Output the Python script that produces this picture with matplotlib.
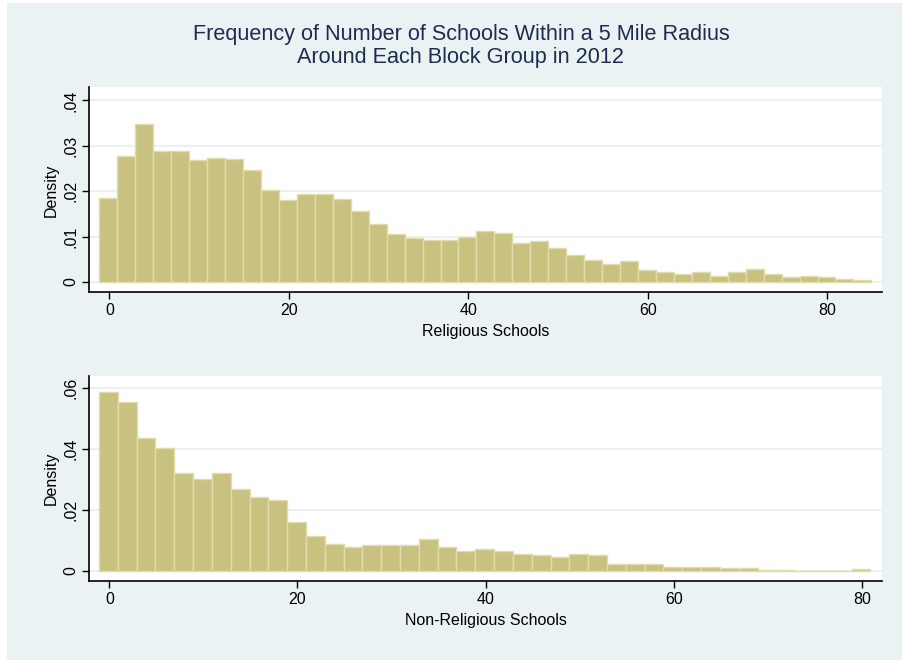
import matplotlib.pyplot as plt
from matplotlib.patches import Rectangle
import numpy as np

# histogram densities, bins of width 2 starting just below zero
religious = [0.0186, 0.0278, 0.0348, 0.0288, 0.0288, 0.0269, 0.0274, 0.0272,
             0.0247, 0.0202, 0.0180, 0.0195, 0.0195, 0.0183, 0.0157, 0.0128,
             0.0106, 0.0096, 0.0093, 0.0093, 0.0100, 0.0112, 0.0109, 0.0087,
             0.0090, 0.0075, 0.0059, 0.0049, 0.0040, 0.0046, 0.0026, 0.0021,
             0.0017, 0.0023, 0.0013, 0.0021, 0.0029, 0.0018, 0.0011, 0.0014,
             0.0011, 0.0007, 0.0004]
non_religious = [0.0587, 0.0554, 0.0436, 0.0402, 0.0320, 0.0302, 0.0320, 0.0270,
                 0.0241, 0.0231, 0.0160, 0.0113, 0.0089, 0.0078, 0.0083, 0.0083,
                 0.0083, 0.0103, 0.0078, 0.0064, 0.0070, 0.0065, 0.0056, 0.0050,
                 0.0045, 0.0056, 0.0050, 0.0022, 0.0022, 0.0022, 0.0012, 0.0012,
                 0.0012, 0.0008, 0.0008, 0.0003, 0.0003, 0.0, 0.0, 0.0, 0.0004]
bin_start = -1.1
bin_width = 2.0

x_ticks = [0, 20, 40, 60, 80]
rel_yticks = [0, 0.01, 0.02, 0.03, 0.04]
rel_ylabels = ['0', '.01', '.02', '.03', '.04']
non_yticks = [0, 0.02, 0.04, 0.06]
non_ylabels = ['0', '.02', '.04', '.06']

plt.rcParams['font.family'] = ['Liberation Sans', 'DejaVu Sans']

bg = '#eaf2f3'
bar_color = '#c9c180'
edge_color = '#e2dcab'

fig = plt.figure(figsize=(9.02, 6.6), dpi=100, facecolor='white')
fig.patches.append(Rectangle((7 / 902, 0), 1, 1 - 3 / 660, transform=fig.transFigure,
                             facecolor=bg, edgecolor='none', zorder=-10))

fig.text(0.511, 0.931, 'Frequency of Number of Schools Within a 5 Mile Radius\nAround Each Block Group in 2012',
         ha='center', va='center', fontsize=15.6, color='#1e2c50', linespacing=1.12)


def histogram(ax, dens, yticks, ylabels, xlim, ylim, xlabel):
    edges = bin_start + bin_width * np.arange(len(dens) + 1)
    ax.bar(edges[:-1], dens, width=bin_width, align='edge', color=bar_color,
           edgecolor=edge_color, linewidth=1.0, zorder=3)
    ax.set_facecolor('white')
    ax.set_xlim(*xlim)
    ax.set_ylim(*ylim)
    ax.set_xticks(x_ticks)
    ax.set_yticks(yticks)
    ax.set_yticklabels(ylabels, rotation=90, va='center')
    ax.grid(axis='y', color=bg, linewidth=1.5, zorder=0)
    for s in ['top', 'right']:
        ax.spines[s].set_visible(False)
    for s in ['left', 'bottom']:
        ax.spines[s].set_linewidth(1.2)
    ax.tick_params(length=5, width=1.0, labelsize=11.5, pad=3)
    ax.set_ylabel('Density', fontsize=11.5, labelpad=3)
    ax.set_xlabel(xlabel, fontsize=11.5, labelpad=4)


ax1 = fig.add_axes([0.099, 0.5571, 0.879, 0.3106])
histogram(ax1, religious, rel_yticks, rel_ylabels, (-2.23, 86.1), (-0.00227, 0.0429),
          'Religious Schools')

ax2 = fig.add_axes([0.099, 0.1197, 0.879, 0.3106])
histogram(ax2, non_religious, non_yticks, non_ylabels, (-2.13, 82.15), (-0.00339, 0.0640),
          'Non-Religious Schools')

fig.savefig('out.png', dpi=100, facecolor=fig.get_facecolor())
